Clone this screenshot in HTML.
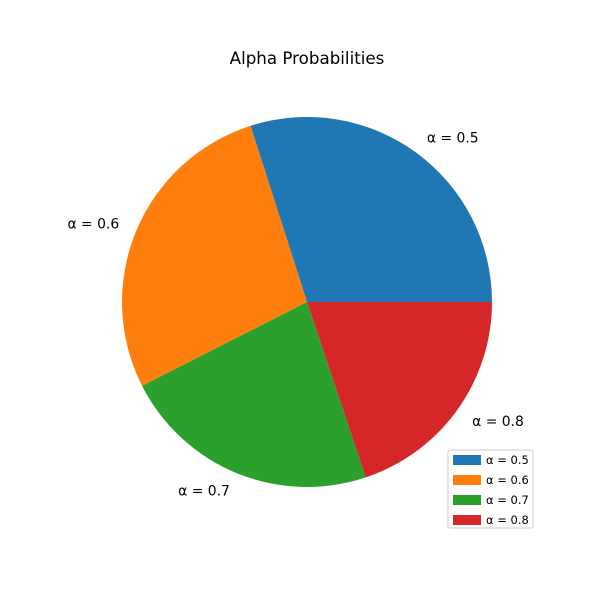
<!DOCTYPE html>
<html><head><meta charset="utf-8"><style>
html,body{margin:0;padding:0;background:#fff;}
svg text{font-family:"DejaVu Sans","Liberation Sans",sans-serif;}
</style></head><body>
<svg id="chart" width="600" height="600" viewBox="0 0 600 600">
<rect width="600" height="600" fill="#fff"/>
<text x="307" y="64" text-anchor="middle" font-size="16.7">Alpha Probabilities</text>
<g id="slices"></g>
<g id="labels"></g>
<g id="legend"></g>
</svg>
<script>
const categories = ["α = 0.5","α = 0.6","α = 0.7","α = 0.8"];
const values = [0.30, 0.276, 0.227, 0.199];
const colors = ["#1f77b4","#ff7f0e","#2ca02c","#d62728"];
const NS="http://www.w3.org/2000/svg";
const cx=307, cy=302, R=185;
const total=values.reduce((a,b)=>a+b,0);
const sg=document.getElementById('slices'), lg=document.getElementById('labels'), leg=document.getElementById('legend');
let a0=0;
function pt(a,r){return [cx+r*Math.cos(a), cy-r*Math.sin(a)];}
values.forEach((v,i)=>{
  const a1=a0+v/total*2*Math.PI;
  const [x0,y0]=pt(a0,R),[x1,y1]=pt(a1,R);
  const large=(a1-a0)>Math.PI?1:0;
  const p=document.createElementNS(NS,'path');
  p.setAttribute('d',`M${cx},${cy} L${x0},${y0} A${R},${R} 0 ${large} 0 ${x1},${y1} Z`);
  p.setAttribute('fill',colors[i]);
  
  
  sg.appendChild(p);
  const am=(a0+a1)/2;
  const [lx,ly]=pt(am,R*1.1);
  const t=document.createElementNS(NS,'text');
  t.setAttribute('x',lx);t.setAttribute('y',ly+5);
  t.setAttribute('font-size','13.9');
  t.setAttribute('text-anchor',Math.cos(am)>=0?'start':'end');
  t.textContent=categories[i];
  
  
  lg.appendChild(t);
  a0=a1;
});
const box=document.createElementNS(NS,'rect');
box.setAttribute('x',448);box.setAttribute('y',450);box.setAttribute('width',85);box.setAttribute('height',78);
box.setAttribute('rx',2);box.setAttribute('fill','#fff');box.setAttribute('stroke','#ccc');


leg.appendChild(box);
categories.forEach((c,i)=>{
  const y=455+i*20;
  const r=document.createElementNS(NS,'rect');
  r.setAttribute('x',453);r.setAttribute('y',y);r.setAttribute('width',28);r.setAttribute('height',10);
  r.setAttribute('fill',colors[i]);
  
  
  leg.appendChild(r);
  const t=document.createElementNS(NS,'text');
  t.setAttribute('x',486);t.setAttribute('y',y+9);t.setAttribute('font-size','11.5');
  t.textContent=c;
  
  
  leg.appendChild(t);
});
</script>
</body></html>
